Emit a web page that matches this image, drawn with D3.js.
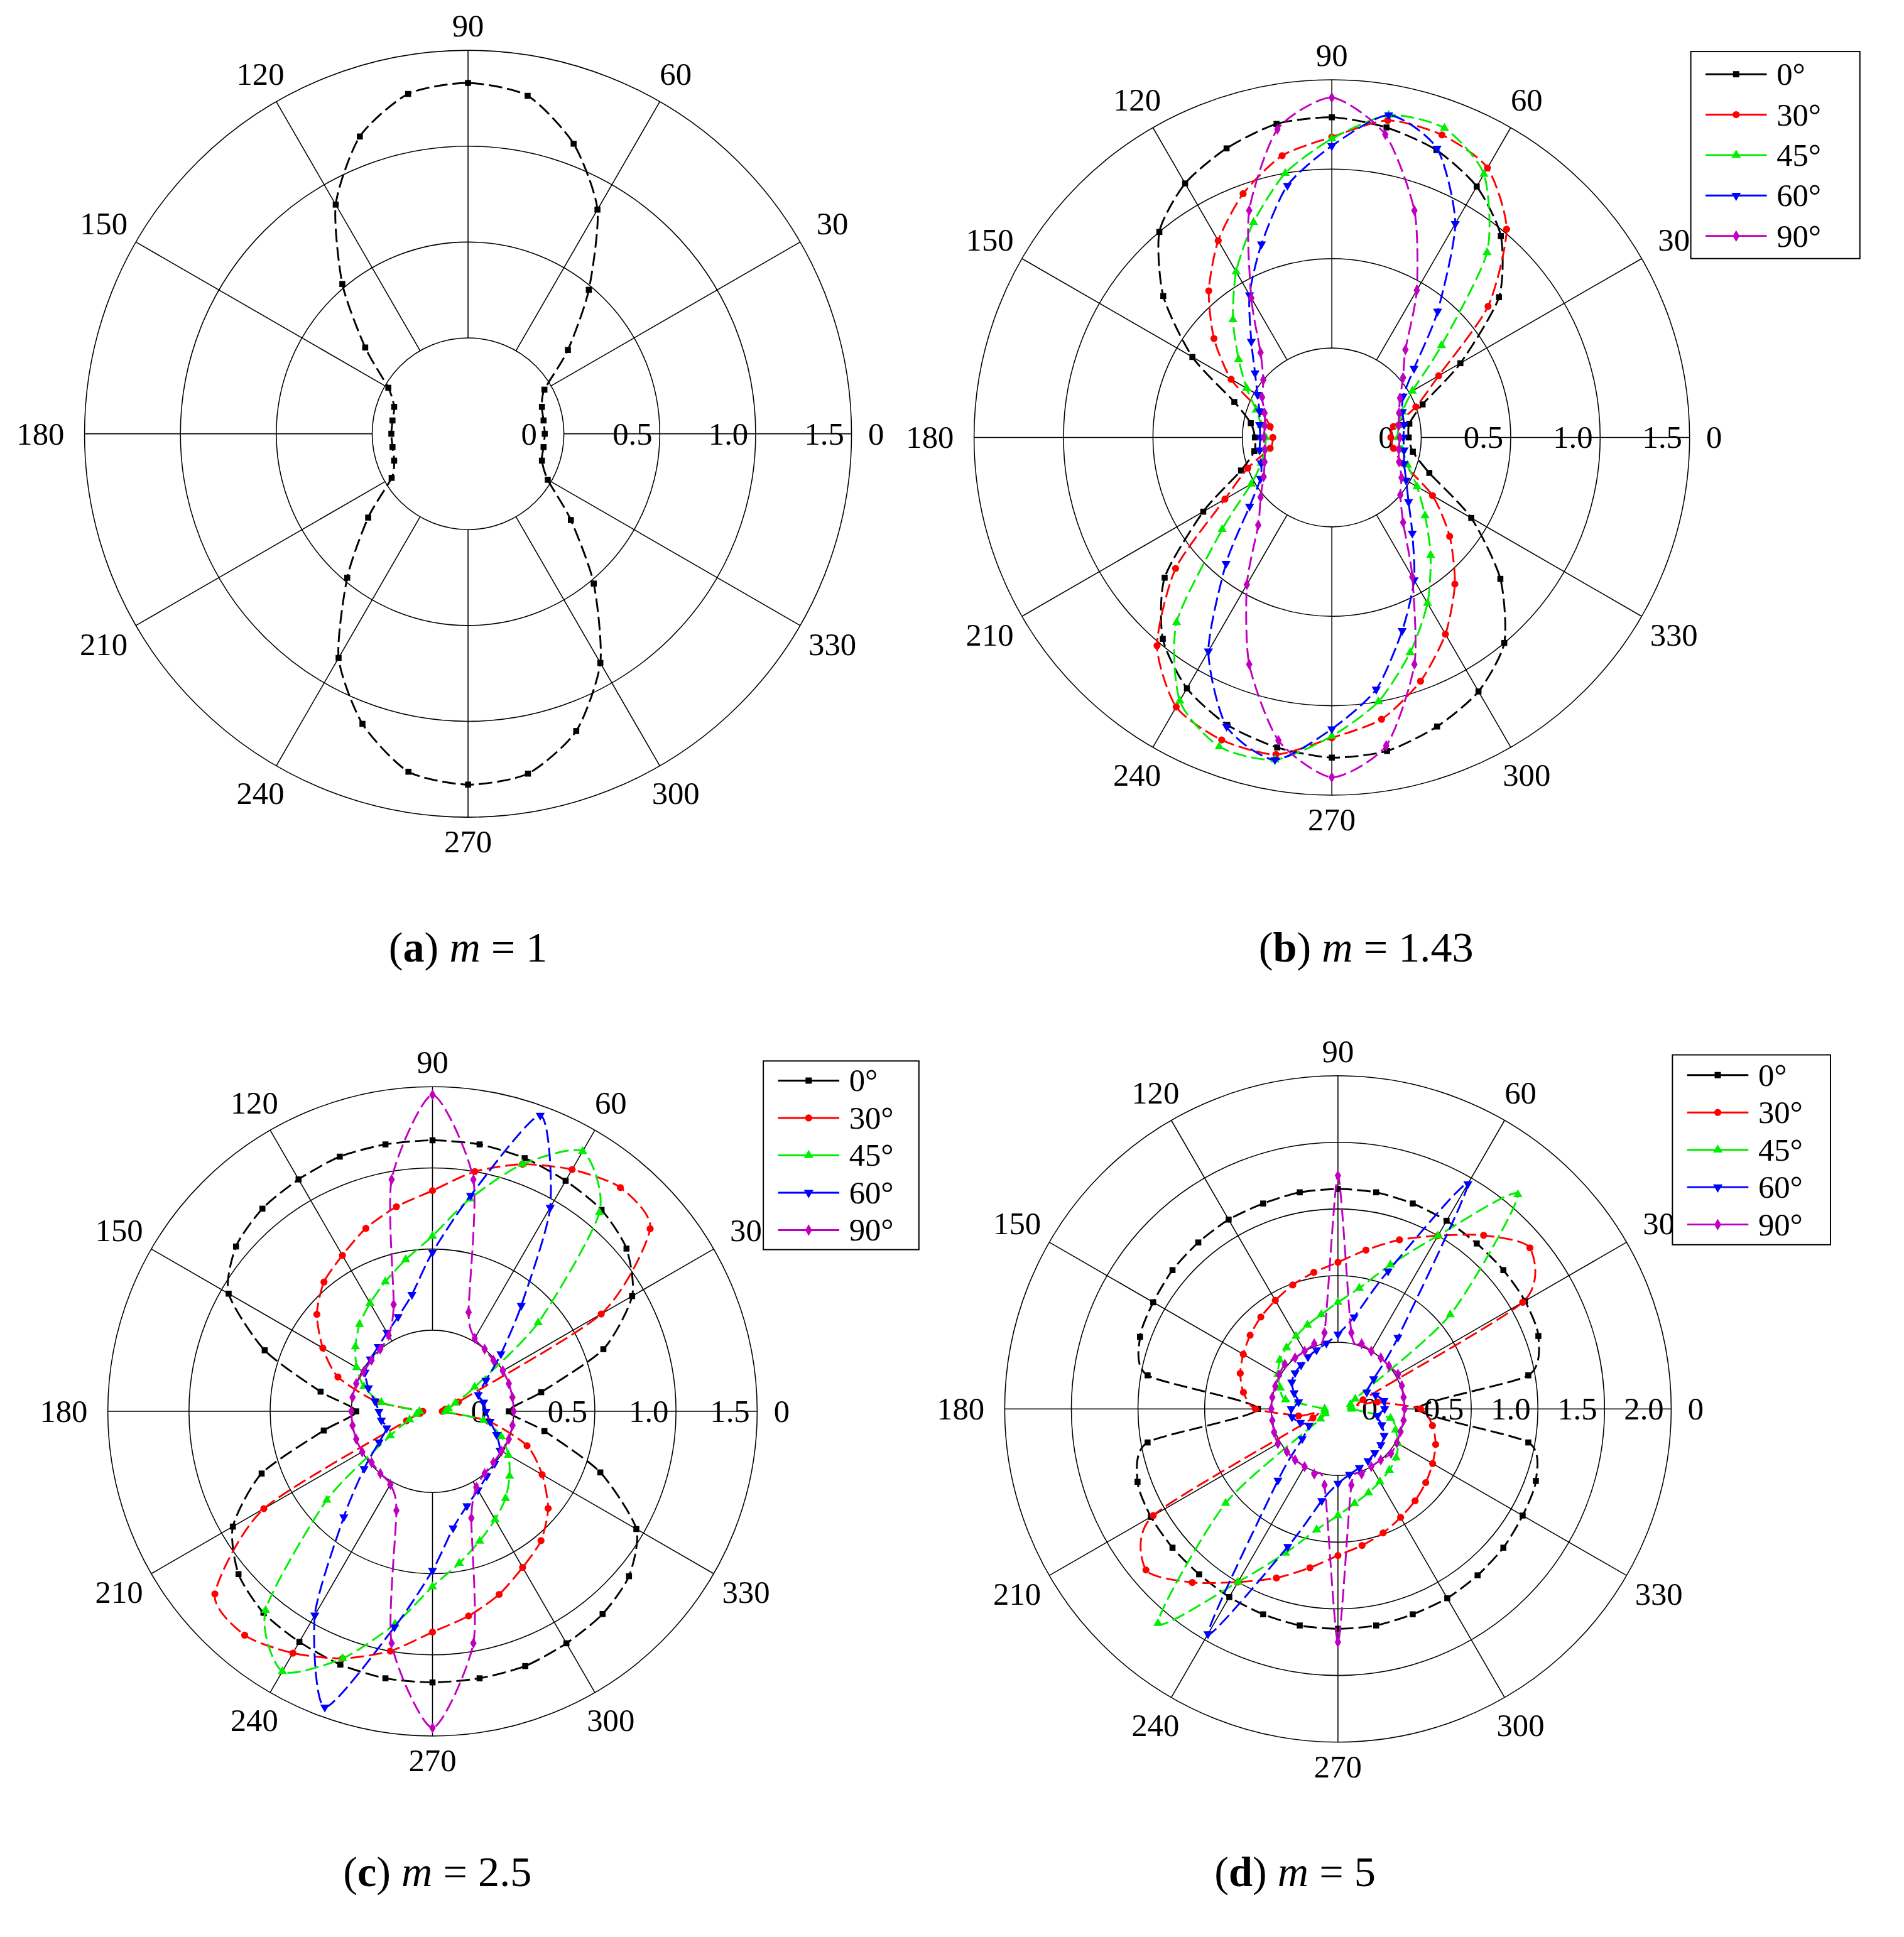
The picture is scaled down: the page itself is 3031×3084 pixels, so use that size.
<!DOCTYPE html>
<html><head><meta charset="utf-8">
<script src="https://cdn.jsdelivr.net/npm/d3@7"></script>
<style>body{margin:0;background:#fff}svg{display:block}text{font-family:"Liberation Serif","DejaVu Serif",serif}</style>
</head><body>
<svg id="c" width="3031" height="3084" viewBox="0 0 1554 1581"></svg>
<script>
// angles 0..170 step 10 (curves are point-symmetric: value at θ+180 equals value at θ)
const angles = d3.range(0, 180, 10);
const seriesNames = ["0°", "30°", "45°", "60°", "90°"];
const angleLabels = [0, 30, 60, 90, 120, 150, 180, 210, 240, 270, 300, 330];
const tickA = ["0", "0.5", "1.0", "1.5"];
const tickD = ["0", "0.5", "1.0", "1.5", "2.0"];

const a_0  = [-0.10,-0.10,-0.09,-0.04,0.18,0.48,0.85,1.11,1.29,1.33,1.30,1.15,0.88,0.52,0.20,-0.02,-0.09,-0.10];

const b_0  = [-0.07,-0.06,0.04,0.33,0.72,0.97,1.12,1.21,1.26,1.29,1.28,1.22,1.14,1.00,0.73,0.40,0.08,-0.04];
const b_30 = [-0.17,-0.15,0.00,0.19,0.64,1.02,1.24,1.30,1.30,1.18,1.10,0.95,0.77,0.57,0.36,0.15,-0.08,-0.15];
const b_45 = [-0.13,-0.12,-0.08,0.02,0.30,0.85,1.20,1.34,1.33,1.17,1.00,0.78,0.57,0.36,0.18,0.05,-0.05,-0.10];
const b_60 = [-0.10,-0.09,-0.08,-0.04,0.10,0.42,0.88,1.22,1.33,1.13,0.93,0.65,0.42,0.20,0.06,-0.02,-0.07,-0.09];
const b_90 = [-0.12,-0.12,-0.10,-0.06,0.02,0.14,0.45,0.85,1.22,1.40,1.25,0.85,0.40,0.12,0.00,-0.05,-0.10,-0.12];

const c_0  = [-0.03,0.18,0.62,0.92,1.06,1.12,1.14,1.16,1.17,1.17,1.17,1.17,1.15,1.13,1.08,0.95,0.60,0.20];
const c_30 = [-0.44,-0.42,-0.33,0.70,1.25,1.30,1.22,1.12,1.00,0.86,0.78,0.70,0.61,0.54,0.43,0.28,0.12,-0.15];
const c_45 = [-0.42,-0.40,-0.35,-0.20,0.35,1.10,1.35,1.12,0.83,0.58,0.45,0.35,0.27,0.20,0.12,0.04,-0.05,-0.18];
const c_60 = [-0.17,-0.18,-0.20,-0.12,0.05,0.35,0.95,1.44,0.85,0.48,0.23,0.12,0.06,0.02,0.00,-0.02,-0.08,-0.14];
const c_90 = [0.00,0.00,0.00,0.00,-0.01,0.00,0.02,0.15,0.95,1.45,0.95,0.20,0.04,0.00,-0.01,-0.01,0.00,0.00];

const d_0  = [0.10,0.95,1.10,1.12,1.12,1.12,1.13,1.14,1.15,1.15,1.15,1.14,1.14,1.13,1.12,1.10,1.08,0.95];
const d_30 = [0.12,-0.20,-0.30,1.10,1.38,1.20,1.00,0.85,0.71,0.60,0.54,0.49,0.44,0.40,0.36,0.32,0.28,0.22];
const d_45 = [-0.40,-0.40,-0.40,-0.35,0.60,1.60,1.00,0.65,0.42,0.30,0.22,0.17,0.13,0.10,0.07,0.02,-0.04,-0.10];
const d_60 = [-0.15,-0.15,-0.20,-0.25,-0.15,0.20,1.45,0.60,0.20,0.06,0.00,-0.03,-0.05,-0.07,-0.08,-0.10,-0.15,-0.20];
const d_90 = [0.00,0.00,0.01,0.02,0.00,0.00,0.00,0.02,0.08,1.25,0.08,0.02,0.00,0.00,0.02,0.01,0.00,0.00];

const colors = ["#000000", "#ff0000", "#00ee00", "#0000ff", "#c000c0"];
const symbols = [d3.symbolSquare, d3.symbolCircle, d3.symbolTriangle, d3.symbolTriangle, d3.symbolDiamond];
const symRot = [0, 0, 0, 180, 0];

const panels = [
  {cx:382, cy:354, R:313, max:1.5, ticks:tickA, series:[a_0], title:["a","1"], tx:382, ty:773, legend:null},
  {cx:1087, cy:357, R:292, max:1.5, ticks:tickA, series:[b_0,b_30,b_45,b_60,b_90], title:["b","1.43"], tx:1115, ty:773, legend:{x:1380,y:42,w:138,h:169,step:33}},
  {cx:353, cy:1152, R:265, max:1.5, ticks:tickA, series:[c_0,c_30,c_45,c_60,c_90], title:["c","2.5"], tx:357, ty:1528, legend:{x:623,y:866,w:127,h:154,step:30.5}},
  {cx:1092, cy:1150, R:272, max:2.0, ticks:tickD, series:[d_0,d_30,d_45,d_60,d_90], title:["d","5"], tx:1057, ty:1528, legend:{x:1365,y:861,w:129,h:155,step:30.5}}
];

const svg = d3.select("#c");
const rad = Math.PI/180;

panels.forEach(p => {
  const g = svg.append("g").attr("transform", `translate(${p.cx},${p.cy})`);
  const r = d3.scaleLinear().domain([-0.5, p.max]).range([0, p.R]);
  const ringVals = d3.range(0, p.max + 0.01, 0.5);
  g.selectAll("circle.ring").data(ringVals).join("circle")
    .attr("r", d => r(d)).attr("fill", "none").attr("stroke", "#000").attr("stroke-width", 0.8);
  g.selectAll("line.spoke").data(angleLabels).join("line")
    .attr("x1", d => r(0)*Math.cos(d*rad)).attr("y1", d => -r(0)*Math.sin(d*rad))
    .attr("x2", d => p.R*Math.cos(d*rad)).attr("y2", d => -p.R*Math.sin(d*rad))
    .attr("stroke", "#000").attr("stroke-width", 0.8);
  const off = d => d===0 ? 20 : (d===180 ? 36 : 20 + 12*Math.abs(Math.cos(d*rad)));
  g.selectAll("text.ang").data(angleLabels).join("text")
    .attr("x", d => (p.R + off(d))*Math.cos(d*rad))
    .attr("y", d => -(p.R + off(d))*Math.sin(d*rad))
    .attr("text-anchor", "middle").attr("dominant-baseline", "central")
    .attr("font-size", 26).text(d => d);
  g.selectAll("text.tick").data(p.ticks).join("text")
    .attr("x", (d,i) => r(+d) - (i===0 ? 22 : 6)).attr("y", 0)
    .attr("text-anchor", "end").attr("dominant-baseline", "central")
    .attr("font-size", 26).text(d => d);
  const line = d3.lineRadial().angle(d => Math.PI/2 - d.t*rad).radius(d => r(d.v)).curve(d3.curveCardinalClosed.tension(0.3));
  p.series.forEach((vals, si) => {
    const full = vals.concat(vals).map((v, i) => ({t: i*10, v}));
    g.append("path").datum(full).attr("d", line).attr("fill", "none")
      .attr("stroke", colors[si]).attr("stroke-width", 1.5).attr("stroke-dasharray", "11,4");
    g.selectAll(null).data(full).join("path")
      .attr("transform", d => `translate(${r(d.v)*Math.cos(d.t*rad)},${-r(d.v)*Math.sin(d.t*rad)}) rotate(${symRot[si]})`)
      .attr("d", d3.symbol().type(symbols[si]).size(si===1?26:24)).attr("fill", colors[si]);
  });
  if (p.legend) {
    const L = p.legend;
    const lg = svg.append("g").attr("transform", `translate(${L.x},${L.y})`);
    lg.append("rect").attr("width", L.w).attr("height", L.h).attr("fill", "#fff").attr("stroke", "#000").attr("stroke-width", 1);
    seriesNames.forEach((n, i) => {
      const y = L.h/2 + (i-2)*L.step;
      lg.append("line").attr("x1", 12).attr("x2", 62).attr("y1", y).attr("y2", y).attr("stroke", colors[i]).attr("stroke-width", 1.5);
      lg.append("path").attr("transform", `translate(37,${y}) rotate(${symRot[i]})`)
        .attr("d", d3.symbol().type(symbols[i]).size(26)).attr("fill", colors[i]);
      lg.append("text").attr("x", 70).attr("y", y).attr("dominant-baseline", "central").attr("font-size", 26).text(n);
    });
  }
  const t = svg.append("text").attr("x", p.tx).attr("y", p.ty).attr("text-anchor", "middle")
    .attr("dominant-baseline", "central").attr("font-size", 35);
  t.append("tspan").text("(");
  t.append("tspan").attr("font-weight", "bold").text(p.title[0]);
  t.append("tspan").text(") ");
  t.append("tspan").attr("font-style", "italic").text("m");
  t.append("tspan").text(" = " + p.title[1]);
});
</script>
</body></html>
